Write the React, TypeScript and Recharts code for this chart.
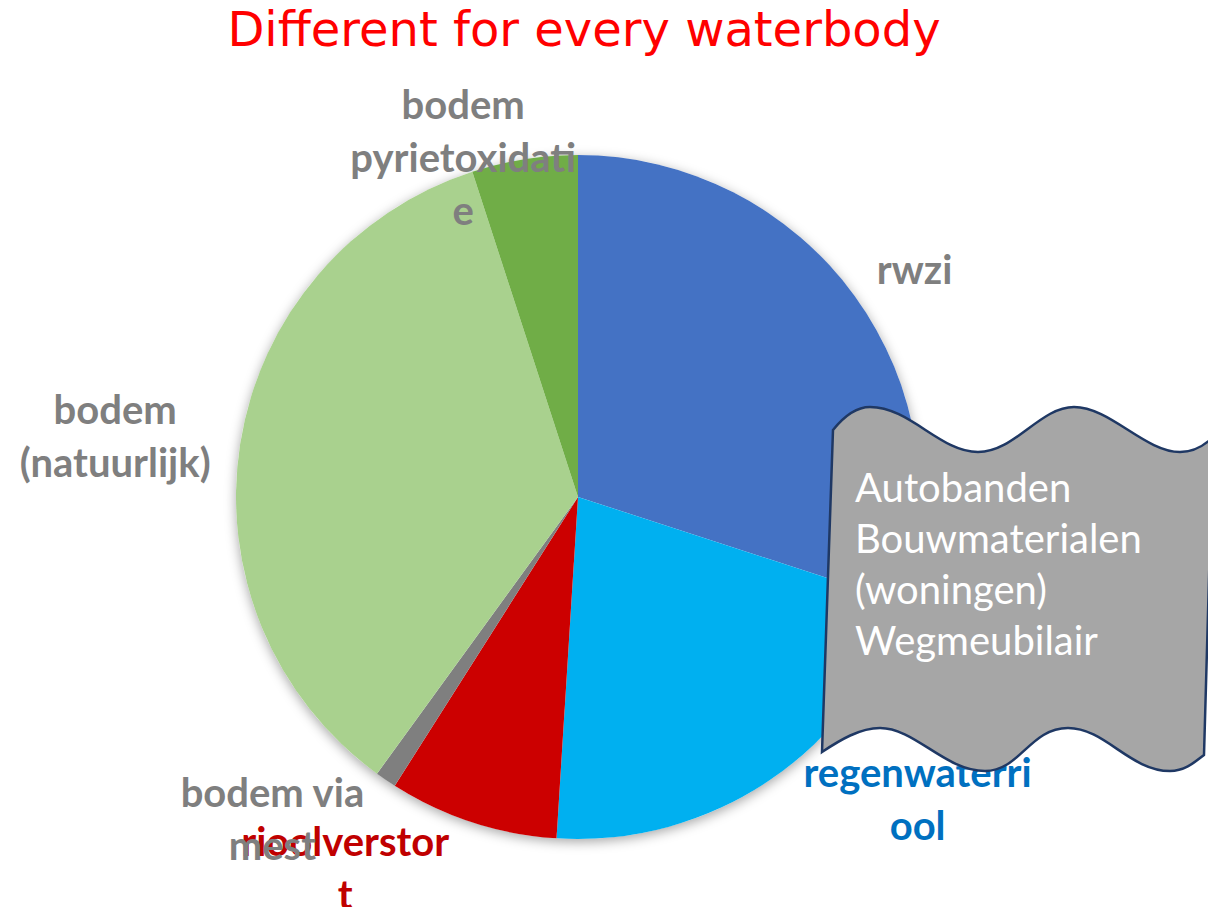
import React from 'react';
import { PieChart, Pie, Cell } from 'recharts';

// sources of the load, clockwise from 12 o'clock
const sources = ['rwzi', 'regenwaterriool', 'rioolverstort', 'bodem via mest', 'bodem (natuurlijk)', 'bodem pyrietoxidatie'];
const shares = [30, 21, 8, 1, 35, 5];
const sliceColors = ['#4472C4', '#00B0F0', '#CC0000', '#7F7F7F', '#A9D18E', '#70AD47'];
const labelColors = ['#7F7F7F', '#0070C0', '#C00000', '#7F7F7F', '#7F7F7F', '#7F7F7F'];
// labels wrapped the way the original wrapped them
const labelLines = [
    ['rwzi'],
    ['regenwaterri', 'ool'],
    ['rioolverstor', 't'],
    ['bodem via', 'mest'],
    ['bodem', '(natuurlijk)'],
    ['bodem', 'pyrietoxidati', 'e'],
];
const calloutLines = ['Autobanden', 'Bouwmaterialen', '(woningen)', 'Wegmeubilair'];
const title = 'Different for every waterbody';

const data = sources.map((name, i) => ({ name, value: shares[i] }));
const base = [{ name: 'base', value: 1 }];

// label nudges: [angle shift in degrees clockwise, distance as a factor of the radius]
const labelPlacement: [number, number][] = [
    [2, 1.187],
    [-14.1, 1.33],
    [14.1, 1.281],
    [9.3, 1.298],
    [-1.5, 1.365],
    [-9.7, 1.047],
];

const W = 1208;
const H = 907;
const LABEL_SIZE = 40;
const LINE_H = 53;

const renderLabel = (props: any) => {
    const { cx, cy, midAngle, outerRadius, index } = props;
    const [shift, factor] = labelPlacement[index];
    const theta = ((90 - midAngle + shift) * Math.PI) / 180;
    const r = outerRadius * factor;
    const x = cx + r * Math.sin(theta);
    const y = cy - r * Math.cos(theta);
    const lines = labelLines[index];
    const firstY = y - ((lines.length - 1) * LINE_H) / 2 + LABEL_SIZE * 0.35;
    return (
        <text
            key={`lbl-${index}`}
            x={x}
            y={firstY}
            textAnchor="middle"
            fill={labelColors[index]}
            fontFamily="Lato, 'Open Sans', sans-serif"
            fontWeight={700}
            fontSize={LABEL_SIZE}
        >
            {lines.map((ln, i) => (
                <tspan key={i} x={x} y={firstY + i * LINE_H}>
                    {ln}
                </tspan>
            ))}
        </text>
    );
};

const wavePath =
    'M 833 430 C 845 415, 858 407, 870 407 C 910 407, 940 452, 978 452 C 1015 452, 1040 407, 1074 407 ' +
    'C 1110 407, 1145 452, 1180 452 C 1195 452, 1205 445, 1213 437 L 1204 755 ' +
    'C 1195 762, 1185 771, 1170 771 C 1130 771, 1105 728, 1068 728 C 1030 728, 1020 771, 985 771 ' +
    'C 945 771, 915 728, 880 728 C 860 728, 840 740, 822 752 Z';

export default function App() {
    return (
        <div style={{ position: 'absolute', left: 0, top: 0, width: W, height: H, background: '#fff', overflow: 'hidden' }}>
            <PieChart width={W} height={H} margin={{ top: 0, right: 0, bottom: 0, left: 0 }}>
                <Pie
                    data={base}
                    dataKey="value"
                    cx={578}
                    cy={497}
                    outerRadius={342}
                    isAnimationActive={false}
                    stroke="none"
                >
                    <Cell fill="#ffffff" style={{ filter: 'drop-shadow(0px 3px 6px rgba(0,0,0,0.35))' }} />
                </Pie>
                <Pie
                    data={data}
                    dataKey="value"
                    nameKey="name"
                    cx={578}
                    cy={497}
                    outerRadius={342}
                    startAngle={90}
                    endAngle={-270}
                    isAnimationActive={false}
                    stroke="none"
                    labelLine={false}
                    label={renderLabel}
                >
                    {data.map((d, i) => (
                        <Cell key={`cell-${i}`} fill={sliceColors[i]} />
                    ))}
                </Pie>
            </PieChart>
            <svg width={W} height={H} style={{ position: 'absolute', left: 0, top: 0, pointerEvents: 'none' }}>
                <text x={584} y={46} textAnchor="middle" fill="#FF0000" fontFamily="'DejaVu Sans', sans-serif" fontSize={48}>
                    {title}
                </text>
                <path d={wavePath} fill="#A6A6A6" stroke="#1F3864" strokeWidth={2.5} />
                <text x={855} fill="#ffffff" fontFamily="Lato, 'Open Sans', sans-serif" fontSize={40}>
                    {calloutLines.map((ln, i) => (
                        <tspan key={i} x={855} y={502 + i * 51}>
                            {ln}
                        </tspan>
                    ))}
                </text>
            </svg>
        </div>
    );
}
